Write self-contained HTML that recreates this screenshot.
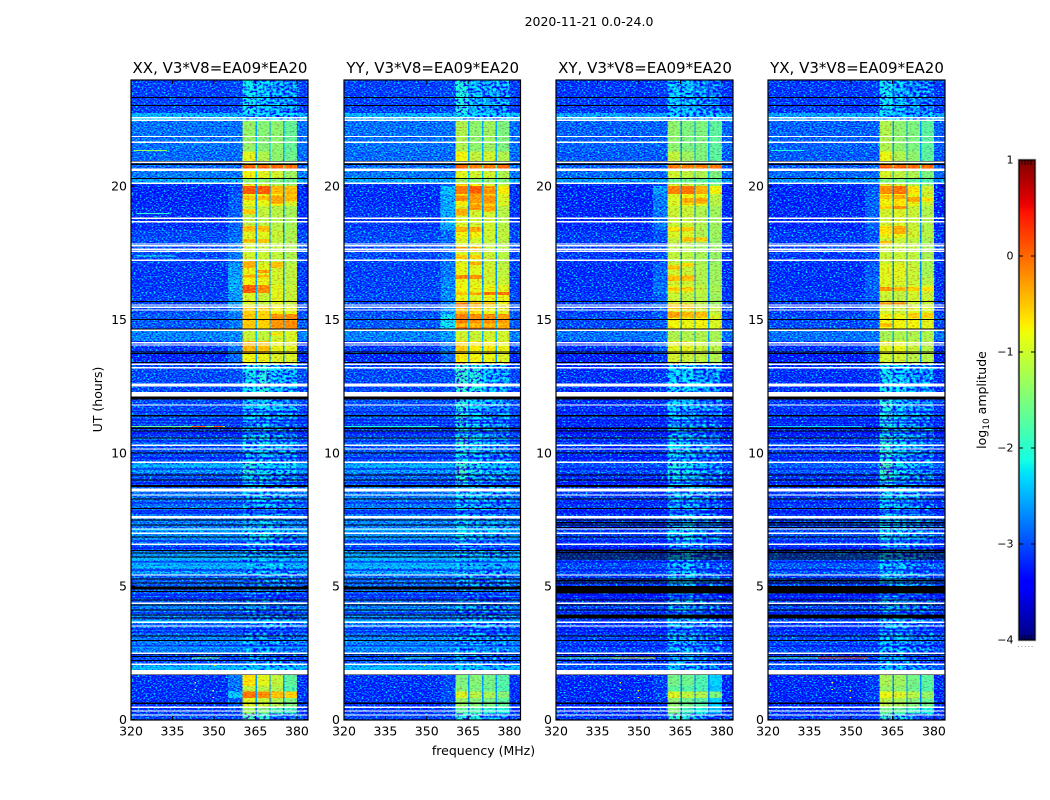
<!DOCTYPE html>
<html lang="en"><head><meta charset="utf-8"><title>2020-11-21 spectrogram</title>
<style>
html,body{margin:0;padding:0;background:#fff;width:1050px;height:800px;overflow:hidden}
svg{display:block;font-family:"DejaVu Sans","Liberation Sans",sans-serif;fill:#000}
</style></head>
<body>
<svg id="chart" xmlns="http://www.w3.org/2000/svg" width="1050" height="800" viewBox="0 0 1050 800">
<defs>
<filter id="speckle" x="0" y="0" width="100%" height="100%" color-interpolation-filters="sRGB">
<feTurbulence type="fractalNoise" baseFrequency="0.5 0.8" numOctaves="1" seed="7"/>
<feColorMatrix type="matrix" values="0 0 0 0 0.5  1.8 0 0 0 -0.4  0 0 0 0 0.5  0 0 0 0 1"/>
</filter>
<filter id="speckle-blotch" x="0" y="0" width="100%" height="100%" color-interpolation-filters="sRGB">
<feTurbulence type="fractalNoise" baseFrequency="0.3 0.45" numOctaves="2" seed="23"/>
<feColorMatrix type="matrix" values="0 0 0 0 0.5  2.4 0 0 0 -0.75  0 0 0 0 0.5  0 0 0 0 1"/>
</filter>
<filter id="speckle-soft" x="0" y="0" width="100%" height="100%" color-interpolation-filters="sRGB">
<feTurbulence type="fractalNoise" baseFrequency="0.4 0.7" numOctaves="1" seed="11"/>
<feColorMatrix type="matrix" values="0 0 0 0 0.5  0.7 0 0 0 0.15  0 0 0 0 0.5  0 0 0 0 1"/>
</filter>
</defs>
<text x="589" y="26" font-size="12.5" text-anchor="middle">2020-11-21 0.0-24.0</text>
<text x="483.5" y="755" font-size="12.5" text-anchor="middle">frequency (MHz)</text>
<text transform="translate(102,399.5) rotate(-90)" font-size="12.5" text-anchor="middle">UT (hours)</text>
<text transform="translate(986,400) rotate(-90)" font-size="12.5" text-anchor="middle">log<tspan font-size="9" dy="3">10</tspan><tspan dy="-3"> amplitude</tspan></text>
<g id="panels"></g>
<g id="cbar"></g>
</svg>
<script>
// ---- data (hours, MHz, log10 amplitude) ----
const panelNames = ["XX","YY","XY","YX"];
const panelSuffix = ", V3*V8=EA09*EA20";
const freqTicks = [320,335,350,365,380];
const timeTicks = [0,5,10,15,20];
const colorbarTicks = [1,0,-1,-2,-3,-4];
const freqEdges = [320,355,360.4,365,365.5,370,370.5,375,375.5,380,384];
const segmentEdges = [24,22.75,22.5,21.3,20.8,20.62,20.3,20.12,20,19.7,19.25,18.35,18.05,17.1,16.6,16.3,16,15.5,15.2,14.6,14.2,13.75,13.35,12,11.6,11.05,10.6,10.25,9.65,9.25,8.7,7.7,7.05,6.65,6.3,5.4,4.95,4.35,3.85,3.1,2.45,2.05,1.7,1.25,1.05,0.8,0.45,0.22,0];
// each row: background, wing (355-360), band1, band2, band3, band4, band-gap
const xxRows = [
[-3.15,-3.1,-2.2,-2.3,-2.5,-2.6,-2.8],[-2.45,-2.45,-2.3,-2.3,-2.3,-2.3,-2.4],[-2.85,-2.85,-1.35,-1.45,-1.4,-1.65,-2.5],[-2.9,-2.9,-0.9,-1.2,-1.4,-1.6,-2.5],
[-2.9,-2.9,0.05,0,0.05,0.05,-1.7],[-2.8,-2.8,-0.8,-0.9,-1,-1.3,-2.3],[-2.55,-2.55,-1.4,-1.4,-1.5,-1.6,-2.3],[-3.2,-3.1,-0.9,-1,-1.2,-1.3,-2.6],
[-3.3,-3.1,0.1,0.1,-0.45,-0.5,-2.6],[-3.3,-3,-0.85,-0.85,-0.8,-0.95,-2.6],[-3.25,-2.95,-1.1,-1.1,-1.15,-1.25,-2.6],[-3.1,-2.9,-0.9,-0.9,-1.05,-1.2,-2.6],
[-3.1,-2.8,-1,-1.05,-1.1,-1.2,-2.6],[-3.2,-2.6,-0.85,-0.9,-1,-1.1,-2.6],[-3.2,-2.5,-0.8,-0.85,-1,-1.1,-2.6],[-3.2,-2.5,0.1,-0.2,-0.9,-1.05,-2.5],
[-3.15,-2.6,-0.95,-1.05,-0.9,-1.05,-2.6],[-3.1,-2.7,-0.6,-0.65,-0.75,-0.85,-2.5],[-3,-2.8,-0.55,-0.6,-0.25,-0.2,-2.4],[-2.75,-2.7,-1.05,-1.1,-1,-0.95,-2.4],
[-3.2,-2.8,-0.45,-0.5,-0.85,-0.9,-2.5],[-3.3,-2.9,-0.8,-0.85,-0.95,-0.95,-2.6],[-3.1,-3.05,-2.2,-2.1,-2.4,-2.5,-2.7],[-3.1,-3.1,-2.4,-2.3,-2.5,-2.7,-2.8],
[-3,-3,-2.3,-2.3,-2.5,-2.7,-2.8],[-3.2,-3.2,-2.5,-2.4,-2.6,-2.8,-2.9],[-2.9,-2.9,-2.2,-2.2,-2.5,-2.6,-2.7],[-3.1,-3.1,-2.5,-2.4,-2.6,-2.7,-2.9],
[-2.6,-2.6,-2,-2.2,-2.3,-2.2,-2.5],[-3.05,-3.05,-2.3,-2.3,-2.6,-2.7,-2.8],[-2.85,-2.85,-2.5,-2.4,-2.6,-2.7,-2.8],[-2.8,-2.8,-2.5,-2.4,-2.5,-2.7,-2.7],
[-2.65,-2.65,-2.3,-2.2,-2.5,-2.6,-2.6],[-3,-3,-2.7,-2.6,-2.8,-2.9,-2.9],[-2.6,-2.6,-2.5,-2.4,-2.5,-2.6,-2.6],[-2.95,-2.95,-2.8,-2.7,-2.8,-2.9,-2.9],
[-3,-3,-2.8,-2.8,-2.9,-2.95,-3],[-2.8,-2.8,-2.7,-2.7,-2.75,-2.8,-2.8],[-2.9,-2.9,-2.75,-2.7,-2.8,-2.85,-2.9],[-2.8,-2.8,-2.6,-2.6,-2.7,-2.75,-2.8],
[-3.1,-3.1,-2.8,-2.8,-2.9,-3,-3],[-2.5,-2.5,-2.4,-2.4,-2.45,-2.5,-2.5],[-3.25,-2.8,-0.7,-0.9,-1.1,-1.7,-2.6],[-3.25,-2.9,-1.1,-1.15,-1.2,-1.8,-2.6],
[-3.25,-2.35,-0.05,-0.2,-0.5,-0.6,-2.5],[-3.25,-3,-0.95,-1.05,-1.2,-1.5,-2.6],[-3.2,-3.1,-1.3,-1.5,-1.8,-1.9,-2.8],[-3.1,-3.1,-1.9,-2,-2.8,-2.9,-2.9]];
const yyRows = [
[-3.15,-3.1,-2.1,-2.4,-2.5,-2.6,-2.8],[-2.45,-2.45,-2.2,-2.3,-2.3,-2.3,-2.4],[-2.85,-2.85,-1.2,-1.4,-1.3,-1.5,-2.5],[-2.9,-2.9,-0.8,-1.1,-1,-1.2,-2.5],
[-2.9,-2.9,0,-0.1,-0.1,0,-1.7],[-2.8,-2.8,-0.9,-1,-1,-1.2,-2.3],[-2.55,-2.55,-1.3,-1.4,-1.4,-1.5,-2.3],[-3.2,-3,-0.7,-0.8,-1,-1.1,-2.6],
[-3.25,-2.4,-0.1,0.1,-0.25,-0.75,-2.5],[-3.25,-2.5,-0.75,-0.55,-0.6,-0.95,-2.5],[-3.2,-2.5,-0.95,-1,-1,-1.15,-2.6],[-3.1,-2.9,-0.8,-0.8,-1,-1.1,-2.6],
[-3.1,-2.9,-0.95,-1,-1.05,-1.15,-2.6],[-3.15,-2.8,-0.85,-0.9,-1,-1.1,-2.6],[-3.15,-2.7,-0.85,-0.9,-1,-1.05,-2.6],[-3.15,-2.7,-0.8,-0.85,-0.85,-0.9,-2.5],
[-3.1,-2.7,-0.85,-0.95,-0.85,-0.85,-2.5],[-3.1,-2.6,-0.5,-0.7,-0.85,-0.9,-2.5],[-3,-2.2,-0.1,-0.2,-0.2,-0.3,-2.4],[-2.75,-2.6,-1,-1.05,-1,-1,-2.4],
[-3.2,-2.8,-0.6,-0.75,-0.75,-0.85,-2.5],[-3.3,-2.9,-0.75,-0.8,-0.85,-0.95,-2.6],[-3.1,-3.05,-2,-2.1,-2.4,-2.5,-2.7],[-3.05,-3.05,-2.1,-2.3,-2.5,-2.6,-2.8],
[-3,-3,-2.1,-2.3,-2.5,-2.6,-2.8],[-3.15,-3.15,-2.2,-2.4,-2.6,-2.7,-2.9],[-2.9,-2.9,-2,-2.2,-2.5,-2.5,-2.7],[-3.05,-3.05,-2.2,-2.4,-2.6,-2.6,-2.9],
[-2.6,-2.6,-1.9,-2.1,-2.3,-2.3,-2.5],[-2.95,-2.95,-2.1,-2.4,-2.6,-2.7,-2.8],[-2.8,-2.8,-2.3,-2.4,-2.6,-2.7,-2.7],[-2.75,-2.75,-2.3,-2.4,-2.5,-2.6,-2.7],
[-2.65,-2.65,-2.2,-2.3,-2.5,-2.6,-2.6],[-2.95,-2.95,-2.6,-2.7,-2.8,-2.9,-2.9],[-2.55,-2.55,-2.4,-2.45,-2.5,-2.6,-2.6],[-2.9,-2.9,-2.7,-2.7,-2.8,-2.9,-2.9],
[-2.95,-2.95,-2.8,-2.8,-2.9,-2.95,-3],[-2.75,-2.75,-2.6,-2.7,-2.75,-2.8,-2.8],[-2.85,-2.85,-2.7,-2.7,-2.8,-2.85,-2.9],[-2.75,-2.75,-2.5,-2.6,-2.7,-2.75,-2.8],
[-3.05,-3.05,-2.7,-2.8,-2.9,-3,-3],[-2.5,-2.5,-2.35,-2.4,-2.45,-2.5,-2.5],[-3.25,-3.1,-1.5,-1.45,-1.55,-1.75,-2.6],[-3.25,-3.1,-1.45,-1.5,-1.6,-1.8,-2.6],
[-3.25,-3.05,-0.95,-1.15,-1.25,-1.45,-2.6],[-3.25,-3.1,-1.35,-1.45,-1.55,-1.7,-2.6],[-3.2,-3.1,-1.7,-1.8,-2,-2.1,-2.8],[-3.1,-3.1,-2.1,-2.1,-2.8,-2.9,-2.9]];
const xyRows = [
[-3.2,-3.15,-2.35,-2.4,-2.7,-2.8,-2.9],[-2.55,-2.55,-2.4,-2.4,-2.4,-2.4,-2.5],[-2.95,-2.95,-1.4,-1.5,-1.5,-1.7,-2.6],[-3,-3,-1.1,-1.3,-1.5,-1.7,-2.6],
[-3,-3,-0.1,-0.1,-0.1,-0.05,-1.8],[-2.9,-2.9,-1,-1.1,-1.2,-1.5,-2.4],[-2.6,-2.6,-1.6,-1.6,-1.7,-1.8,-2.4],[-3.25,-3.1,-1,-1.1,-1.3,-1.4,-2.6],
[-3.3,-2.6,-0.15,-0.05,-0.4,-0.8,-2.6],[-3.3,-2.8,-0.95,-0.8,-0.85,-1.15,-2.6],[-3.3,-2.8,-1.05,-1.05,-1.2,-1.3,-2.7],[-3.2,-3.05,-0.95,-0.95,-1.2,-1.3,-2.7],
[-3.2,-3.05,-1.1,-1.15,-1.25,-1.35,-2.7],[-3.25,-2.95,-1,-1.05,-1.2,-1.3,-2.7],[-3.25,-2.9,-1,-1.05,-1.2,-1.3,-2.7],[-3.25,-2.85,-0.9,-0.95,-1.1,-1.25,-2.6],
[-3.2,-2.95,-1.05,-1.1,-1.15,-1.3,-2.7],[-3.2,-3,-0.85,-0.95,-1,-1.1,-2.6],[-3.1,-3,-0.8,-0.85,-0.8,-0.95,-2.5],[-2.85,-2.8,-1.2,-1.2,-1.2,-1.25,-2.5],
[-3.25,-3,-0.9,-0.9,-1.05,-1.15,-2.6],[-3.35,-3.2,-1,-1.05,-1.1,-1.2,-2.7],[-3.25,-3.2,-2.3,-2.3,-2.6,-2.7,-2.9],[-3.25,-3.25,-2.3,-2.4,-2.7,-2.8,-3],
[-3.2,-3.2,-2.3,-2.4,-2.7,-2.8,-3],[-3.3,-3.3,-2.4,-2.5,-2.8,-2.9,-3.05],[-3.15,-3.15,-2.2,-2.3,-2.7,-2.8,-2.9],[-3.25,-3.25,-2.3,-2.4,-2.7,-2.85,-3],
[-3.05,-3.05,-2.1,-2.2,-2.5,-2.7,-2.8],[-3.25,-3.25,-2.3,-2.4,-2.7,-2.8,-3],[-3.2,-3.2,-2.5,-2.4,-2.7,-2.9,-3],[-3.2,-3.2,-2.5,-2.3,-2.7,-2.85,-3],
[-3.15,-3.15,-2.3,-2.2,-2.6,-2.8,-2.9],[-3.25,-3.25,-2.5,-2.4,-2.8,-2.9,-3],[-3.1,-3.1,-2.5,-2.3,-2.8,-2.9,-3],[-3.2,-3.2,-2.4,-2.4,-2.8,-2.9,-3],
[-3.25,-3.25,-2.5,-2.5,-2.85,-2.95,-3.05],[-3.15,-3.15,-2.5,-2.5,-2.8,-2.9,-3],[-3.2,-3.2,-2.5,-2.5,-2.8,-2.9,-3],[-3.15,-3.15,-2.45,-2.5,-2.75,-2.85,-3],
[-3.25,-3.25,-2.6,-2.6,-2.9,-3,-3.05],[-3.05,-3.05,-2.4,-2.45,-2.7,-2.8,-2.9],[-3.3,-3.15,-1.55,-1.6,-1.8,-2.3,-2.8],[-3.3,-3.2,-1.7,-1.75,-1.85,-2.4,-2.8],
[-3.3,-3.15,-0.95,-1.1,-1.2,-1.5,-2.7],[-3.3,-3.2,-1.4,-1.6,-1.75,-2.3,-2.8],[-3.25,-3.2,-1.45,-1.9,-2.1,-2.4,-2.9],[-3.2,-3.2,-2,-2.1,-2.9,-3,-3]];
const yxRows = [
[-3.2,-3.15,-2.2,-2.4,-2.7,-2.8,-2.9],[-2.55,-2.55,-2.3,-2.4,-2.4,-2.4,-2.5],[-2.95,-2.95,-1.2,-1.4,-1.5,-1.7,-2.6],[-3,-3,-0.85,-1.2,-1.4,-1.7,-2.6],
[-3,-3,0.05,0.05,0.05,0.05,-1.8],[-2.9,-2.9,-0.95,-1.1,-1.2,-1.5,-2.4],[-2.65,-2.65,-1.5,-1.5,-1.7,-1.8,-2.4],[-3.25,-3.1,-0.9,-1,-1.2,-1.4,-2.6],
[-3.3,-3,-0.2,-0.05,-0.7,-1,-2.6],[-3.3,-2.95,-0.8,-0.7,-0.85,-1.05,-2.6],[-3.3,-2.95,-1,-0.95,-1.05,-1.2,-2.7],[-3.2,-3.05,-0.85,-0.85,-1,-1.15,-2.7],
[-3.2,-3.05,-1.05,-1.05,-1.1,-1.25,-2.7],[-3.25,-3,-0.9,-0.9,-1.05,-1.25,-2.7],[-3.25,-2.95,-0.9,-0.95,-1.05,-1.15,-2.7],[-3.25,-2.95,-0.95,-1.05,-0.95,-1,-2.6],
[-3.2,-3,-1.05,-1.1,-1,-1.05,-2.7],[-3.2,-3,-0.95,-1,-0.9,-0.95,-2.6],[-3.1,-3,-0.8,-0.8,-0.8,-0.9,-2.5],[-2.85,-2.8,-1.25,-1.2,-1.2,-1.2,-2.5],
[-3.25,-3,-0.9,-0.85,-1.05,-1.15,-2.6],[-3.35,-3.2,-1,-1,-1.15,-1.15,-2.7],[-3.25,-3.2,-2.2,-2.3,-2.6,-2.7,-2.9],[-3.2,-3.2,-2.1,-2.3,-2.6,-2.7,-2.9],
[-3.15,-3.15,-2.1,-2.3,-2.6,-2.7,-2.9],[-3.3,-3.3,-2.2,-2.4,-2.7,-2.8,-3],[-3.1,-3.1,-2,-2.2,-2.6,-2.7,-2.9],[-3.2,-3.2,-2.1,-2.4,-2.65,-2.8,-3],
[-2.95,-2.95,-1.9,-2.2,-2.4,-2.6,-2.8],[-3.2,-3.2,-2.1,-2.4,-2.7,-2.8,-3],[-3.15,-3.15,-2.3,-2.4,-2.7,-2.85,-3],[-3.15,-3.15,-2.3,-2.4,-2.65,-2.8,-3],
[-3.05,-3.05,-2.2,-2.3,-2.6,-2.75,-2.9],[-3.2,-3.2,-2.4,-2.5,-2.75,-2.9,-3],[-3,-3,-2.4,-2.4,-2.75,-2.85,-2.95],[-3.15,-3.15,-2.4,-2.5,-2.8,-2.9,-3],
[-3.2,-3.2,-2.5,-2.6,-2.85,-2.95,-3.05],[-3.1,-3.1,-2.5,-2.55,-2.8,-2.9,-3],[-3.15,-3.15,-2.5,-2.55,-2.8,-2.9,-3],[-3.1,-3.1,-2.45,-2.5,-2.75,-2.85,-3],
[-3.2,-3.2,-2.6,-2.65,-2.9,-3,-3.05],[-3,-3,-2.4,-2.45,-2.7,-2.8,-2.9],[-3.3,-3.2,-1.25,-1.3,-1.55,-1.7,-2.7],[-3.3,-3.2,-1.35,-1.4,-1.6,-1.75,-2.7],
[-3.3,-3.15,-0.85,-0.95,-1.15,-1.35,-2.7],[-3.3,-3.2,-1.15,-1.25,-1.45,-1.6,-2.7],[-3.25,-3.2,-1.6,-1.7,-1.9,-2.1,-2.9],[-3.2,-3.2,-2,-2.2,-2.9,-3,-3]];
const panelRows = [xxRows,yyRows,xyRows,yxRows];
// bright sub-band stripes: [panel, band, centre hour, span hours, log amplitude]
const bandStripes = [
[0,0,19.55,.15,-.55],[0,1,19.55,.15,-.5],[0,2,19.5,.3,-.35],[0,3,19.6,.35,-.5],[0,0,19.05,.2,-.6],[0,0,18.4,.2,-.5],[0,1,18.4,.2,-.5],[0,0,17.95,.12,-.5],[0,1,17.95,.12,-.5],[0,0,17.05,.25,-.4],[0,2,17.05,.2,-.5],[0,1,16.8,.12,-.3],[0,0,16.62,.08,-.35],[0,1,16.62,.08,-.45],[0,2,14.45,.1,-.7],
[1,0,19.55,.2,-.2],[1,1,19.55,.35,-.3],[1,2,19.5,.3,-.25],[1,1,19.2,.2,-.25],[1,2,19.15,.2,-.4],[1,0,19.03,.25,-.4],[1,0,18.37,.2,-.45],[1,1,18.37,.2,-.4],[1,0,17.62,.2,-.3],[1,1,17.62,.2,-.5],[1,0,17.34,.15,-.6],[1,1,17.34,.15,-.6],[1,1,17.1,.12,-.4],[1,0,16.59,.15,-.2],[1,1,16.59,.15,-.2],[1,0,15.97,.1,-.5],[1,1,15.97,.1,-.35],[1,2,15.97,.12,-.05],[1,3,15.97,.12,-.05],[1,0,15.54,.2,0],[1,1,15.54,.2,-.4],[1,2,15.54,.2,-.5],[1,0,14.79,.15,-.45],[1,1,14.79,.15,-.45],[1,2,14.79,.15,-.45],[1,3,14.79,.15,-.45],
[2,1,19.45,.2,-.4],[2,2,19.45,.2,-.35],[2,0,18.4,.15,-.7],[2,1,18.4,.15,-.55],[2,1,18,.15,-.5],[2,2,18,.15,-.6],[2,0,16.95,.15,-.5],[2,1,17.05,.12,-.65],[2,0,16.55,.2,-.5],[2,1,16.55,.2,-.5],[2,0,16.13,.12,-.55],[2,1,16.13,.12,-.6],[2,0,15.5,.2,-.55],[2,1,15.5,.2,-.6],[2,0,15.18,.2,-.3],[2,1,15.18,.2,-.45],[2,2,15.18,.2,-.5],
[3,0,19.6,.15,-.55],[3,1,19.6,.15,-.4],[3,2,19.5,.2,-.35],[3,3,19.5,.15,-.7],[3,1,19.2,.12,-.25],[3,0,19.2,.12,-.6],[3,1,18.35,.3,-.4],[3,0,18.35,.3,-.7],[3,0,17.9,.1,-.5],[3,0,16.15,.15,-.3],[3,1,16.15,.15,-.5],[3,2,16.15,.15,-.6],[3,3,16.15,.15,-.7],[3,0,15.6,.08,-.2],[3,1,15.6,.08,-.2],[3,2,15.15,.2,-.6],[3,3,15.15,.2,-.6],[3,0,14.8,.15,-.5]];
// thin dim integrations (all panels), hours
const dimLineHours = [11.53,11.23,11.12,10.74,10.44,9.81,9.39,8.87,8.12,7.82,7.74,6.69,6.43,5.91,5.61,4.67,4.56,3.99,3.39,3.28,2.76];
const dimLineLevel = -3.5;
// thin bright integrations (parallel hands), hours
const brightLineHours = [9.5,7.1,6.02,5.87,5.72,3.69,2.72,1.94];
const brightLineLevel = -2.35;
// noisy (quiet) and smooth (active) time spans, hours
const quietSpans = [[24,22.5],[13.35,1.7],[0.22,0]];
const activeSpans = [[22.5,13.35],[1.7,0.22]];
// no-data (white) flag lines: [centre hour, span hours]
const whiteFlags = [[22.565,.05],[22.467,.05],[21.86,.05],[21.64,.05],[20.89,.05],[20.62,.09],[20.105,.05],[18.79,.05],[18.665,.05],[17.83,.05],[17.765,.05],[17.63,.05],[17.555,.05],[17.22,.05],[15.54,.05],[15.455,.05],[15.355,.05],[14.59,.05],[14.13,.05],[14.04,.05],[13.32,.05],[13.19,.05],[12.57,.05],[12.51,.05],[12.19,.175],[11.79,.05],[10.28,.06],[10.14,.05],[9.64,.05],[8.605,.13],[8.42,.05],[7.585,.09],[7.14,.05],[6.98,.05],[6.57,.05],[5.42,.05],[4.36,.05],[3.645,.05],[3.505,.05],[2.49,.05],[2.07,.05],[1.775,.165],[0.457,.05],[0.32,.05],[0.17,.05]];
// zero-amplitude (black) flag lines: [centre hour, span hours]
const blackFlags = [[23.33,.04],[23.03,.04],[20.93,.04],[20.82,.04],[20.28,.04],[15.67,.04],[15,.04],[14.64,.04],[13.78,.04],[13.73,.04],[13.39,.04],[12.055,.105],[11.39,.06],[10.92,.04],[10.82,.04],[10.55,.04],[9.99,.04],[9.16,.04],[8.98,.04],[8.755,.09],[8.27,.04],[7.91,.04],[7.48,.05],[7.29,.05],[6.84,.04],[6.33,.04],[6.24,.04],[6.09,.04],[5.27,.04],[5.12,.04],[4.93,.12],[4.8,.04],[4.48,.04],[4.29,.04],[4.11,.04],[3.92,.04],[3.81,.04],[3.13,.04],[2.955,.04],[2.455,.04],[2.355,.04],[2.205,.04],[1.68,.04],[0.61,.04]];
const crossBlackFlags = [[7.38,.05],[7.2,.05],[6.34,.05],[6.26,.08],[6.17,.05],[4.88,.16],[4.98,.05],[4.75,.05],[3.86,.1],[6.02,.05],[5.2,.05]];
// narrowband streaks: [panel, start MHz, end MHz, hour, log amplitude]
const streaks = [[0,321,333,21.36,-1.3],[0,321,333,21.88,-1.9],[0,320,354,11.0,-1.6],[0,342,347,11.0,0],[0,350,353,11.0,0.1],[0,322,334,19.0,-2],[0,322,336,17.4,-2.1],[0,342,352,2.33,-1.5],[1,320,354,11.0,-2.1],[1,342,352,2.33,-1.9],[2,320,354,2.33,-1.6],[2,340,356,2.33,-0.9],[3,321,333,21.88,-1.9],[3,321,333,21.36,-2.1],[3,320,338,2.33,-1.6],[3,338,356,2.33,0.1],[3,320,354,11.0,-2.3]];
// isolated spikes: [panel, MHz, hour, log amplitude]
const spikes = [[0,343,1.15,-0.9],[0,343,1.4,-0.9],[0,349.5,1.1,-0.7],[0,349.5,.85,-0.8],[0,350,2.05,-0.9],[2,343,1.15,-0.9],[2,343,1.4,-0.9],[2,349.5,1.1,-0.7],[2,349.5,.85,-0.8],[3,343,1.15,-0.9],[3,343,1.4,-0.9],[3,349.5,1.1,-0.7],[3,349.5,.85,-0.8],[0,349,9.18,-0.6],[0,345,9.18,-0.6],[1,349,2.05,-0.9]];
// ---- axes ----
const panelLeft = [131,344,556,768];
const panelRight = [308,520.5,733,945];
const plotTop = 80, plotBottom = 720;
const NS = "http://www.w3.org/2000/svg";
function xAxis(p,f){return panelLeft[p]+(f-320)/64*(panelRight[p]-panelLeft[p]);}
function yAxis(t){return plotBottom-0.5-t*26.67;}
function jet(v){
  const n=Math.max(0,Math.min(1,(v+4)/5));
  const lerp=(pts)=>{for(let i=1;i<pts.length;i++){if(n<=pts[i][0]){const a=pts[i-1],b=pts[i];return a[1]+(b[1]-a[1])*(n-a[0])/(b[0]-a[0]);}}return pts[pts.length-1][1];};
  const r=lerp([[0,0],[.35,0],[.66,1],[.89,1],[1,.5]]),g=lerp([[0,0],[.125,0],[.375,1],[.64,1],[.91,0],[1,0]]),b=lerp([[0,.5],[.11,1],[.34,1],[.65,0],[1,0]]);
  return "rgb("+Math.round(r*255)+","+Math.round(g*255)+","+Math.round(b*255)+")";
}
function mk(parent,tag,attrs){const e=document.createElementNS(NS,tag);for(const k in attrs)e.setAttribute(k,attrs[k]);parent.appendChild(e);return e;}
const panelsG=document.getElementById("panels");
panelNames.forEach((name,p)=>{
  const g=mk(panelsG,"g",{});
  
  
  const L=panelLeft[p],R=panelRight[p];
  const rows=panelRows[p];
  const cells=mk(g,"g",{"shape-rendering":"crispEdges"});
  
  
  rows.forEach((row,i)=>{
    const [bg,wing,b1,b2,b3,b4,gap]=row;
    const levels=[bg,wing,b1,gap,b2,gap,b3,gap,b4,bg];
    const y0=yAxis(segmentEdges[i]),y1=yAxis(segmentEdges[i+1]);
    levels.forEach((v,c)=>{
      const x0=xAxis(p,freqEdges[c]),x1=xAxis(p,freqEdges[c+1]);
      const cell=mk(cells,"rect",{x:x0.toFixed(2),y:y0.toFixed(2),width:(x1-x0+.5).toFixed(2),height:(y1-y0+.5).toFixed(2),fill:jet(v)});
      
      
    });
  });
  bandStripes.filter(s=>s[0]===p).forEach(s=>{
    const x0=xAxis(p,freqEdges[2+s[1]*2]),x1=xAxis(p,freqEdges[3+s[1]*2]);
    const h=s[3]*26.67;
    const st=mk(cells,"rect",{x:x0.toFixed(2),y:(yAxis(s[2])-h/2).toFixed(2),width:(x1-x0).toFixed(2),height:h.toFixed(2),fill:jet(s[4])});
    
    
  });
  const bandL=xAxis(p,360.4),bandR=xAxis(p,380);
  const texLeft=mk(g,"rect",{x:L,y:plotTop,width:bandL-L,height:plotBottom-plotTop,filter:"url(#speckle)",style:"mix-blend-mode:hard-light"});
  
  
  const texRight=mk(g,"rect",{x:bandR,y:plotTop,width:R-bandR,height:plotBottom-plotTop,filter:"url(#speckle)",style:"mix-blend-mode:hard-light"});
  
  
  activeSpans.forEach(sp=>{
    const y0=yAxis(sp[0]),y1=yAxis(sp[1]);
    const t=mk(g,"rect",{x:bandL,y:y0,width:bandR-bandL,height:y1-y0,filter:"url(#speckle-soft)",style:"mix-blend-mode:hard-light"});
    
    
  });
  quietSpans.forEach(sp=>{
    const y0=Math.max(plotTop,yAxis(sp[0])),y1=yAxis(sp[1]);
    const t=mk(g,"rect",{x:bandL,y:y0,width:bandR-bandL,height:y1-y0,filter:"url(#speckle-blotch)",style:"mix-blend-mode:hard-light"});
    
    
  });
  const lines=mk(g,"g",{"shape-rendering":"crispEdges"});
  dimLineHours.forEach(t=>{
    const r=mk(lines,"rect",{x:L,y:yAxis(t)-.5,width:R-L,height:1,fill:jet(dimLineLevel)});
    
    
  });
  if(p<2){brightLineHours.forEach(t=>{
    const r=mk(lines,"rect",{x:L,y:yAxis(t)-.5,width:R-L,height:1,fill:jet(brightLineLevel)});
    
    
  });}
  streaks.filter(s=>s[0]===p).forEach(s=>{
    const x0=xAxis(p,s[1]),x1=xAxis(p,s[2]);
    const st=mk(lines,"rect",{x:x0,y:yAxis(s[3]),width:x1-x0,height:1,fill:jet(s[4])});
    
    
  });
  spikes.filter(s=>s[0]===p).forEach(s=>{
    const sp=mk(lines,"rect",{x:xAxis(p,s[1]),y:yAxis(s[2]),width:1.4,height:1.4,fill:jet(s[3])});
    
    
  });
  const blacks=p>=2?blackFlags.concat(crossBlackFlags):blackFlags;
  blacks.forEach(f=>{
    const h=Math.max(1,f[1]*26.67);
    const r=mk(lines,"rect",{x:L,y:yAxis(f[0])-h/2,width:R-L,height:h,fill:"#000"});
    
    
  });
  whiteFlags.forEach(f=>{
    const h=Math.max(1,f[1]*26.67);
    const r=mk(lines,"rect",{x:L,y:yAxis(f[0])-h/2,width:R-L,height:h,fill:"#fff"});
    
    
  });
  const frame=mk(g,"rect",{x:L,y:plotTop,width:R-L,height:plotBottom-plotTop,fill:"none",stroke:"#000","stroke-width":1.2});
  
  
  const ttl=mk(g,"text",{x:(L+R)/2+.5,y:73,"font-size":15,"text-anchor":"middle"});
  ttl.textContent=name+panelSuffix;
  
  
  freqTicks.forEach(f=>{
    const x=xAxis(p,f);
    const t1=mk(g,"line",{x1:x,x2:x,y1:plotBottom,y2:plotBottom-4,stroke:"#000"});
    
    
    const t2=mk(g,"line",{x1:x,x2:x,y1:plotTop,y2:plotTop+4,stroke:"#000"});
    
    
    const lb=mk(g,"text",{x:x,y:735.5,"font-size":12.5,"text-anchor":"middle"});
    lb.textContent=f;
    
    
  });
  timeTicks.forEach(t=>{
    const y=yAxis(t);
    const t1=mk(g,"line",{x1:L,x2:L+4,y1:y,y2:y,stroke:"#000"});
    
    
    const t2=mk(g,"line",{x1:R,x2:R-4,y1:y,y2:y,stroke:"#000"});
    
    
    const lb=mk(g,"text",{x:L-4,y:y+4.5,"font-size":12.5,"text-anchor":"end"});
    lb.textContent=t;
    
    
  });
});
// ---- colorbar ----
const cb=document.getElementById("cbar");
const cbL=1019,cbR=1035,cbT=160,cbB=640;
function cbY(v){return cbB-(v+4)/5*(cbB-cbT);}
const cbRamp=mk(cb,"g",{"shape-rendering":"crispEdges"});


for(let py=cbT;py<cbB;py++){
  const v=1-(py-cbT+.5)/(cbB-cbT)*5;
  const r=mk(cbRamp,"rect",{x:cbL,y:py,width:cbR-cbL,height:1.2,fill:jet(v)});
  
  
}
const cbFrame=mk(cb,"rect",{x:cbL,y:cbT,width:cbR-cbL,height:cbB-cbT,fill:"none",stroke:"#000","stroke-width":1.2});


const cbHalo=mk(cb,"rect",{x:cbL-.9,y:cbT-.9,width:cbR-cbL+1.8,height:cbB-cbT+1.8,fill:"none",stroke:"#aaa","stroke-width":.7});


colorbarTicks.forEach(v=>{
  const y=cbY(v);
  const a=mk(cb,"line",{x1:cbL,x2:cbL+4,y1:y,y2:y,stroke:"#000"});
  
  
  const b=mk(cb,"line",{x1:cbR,x2:cbR-4,y1:y,y2:y,stroke:"#000"});
  
  
  const lb=mk(cb,"text",{x:1013.5,y:y+3.5,"font-size":11,"text-anchor":"end"});
  lb.textContent=v<0?"\u2212"+(-v):String(v);
  
  
});
[cbT,cbB].forEach(y=>{
  const dir=y===cbT?1:-1;
  const d=mk(cb,"path",{d:"M1022 "+y+"v"+dir*5+"M1025 "+y+"v"+dir*5+"M1028 "+y+"v"+dir*5+"M1031 "+y+"v"+dir*5,stroke:"#000","stroke-width":.8,fill:"none"});
  
  
});
const dots=mk(cb,"line",{x1:1018,x2:1035,y1:646.5,y2:646.5,stroke:"#999","stroke-width":1,"stroke-dasharray":"1 2.4"});


</script>
</body></html>
